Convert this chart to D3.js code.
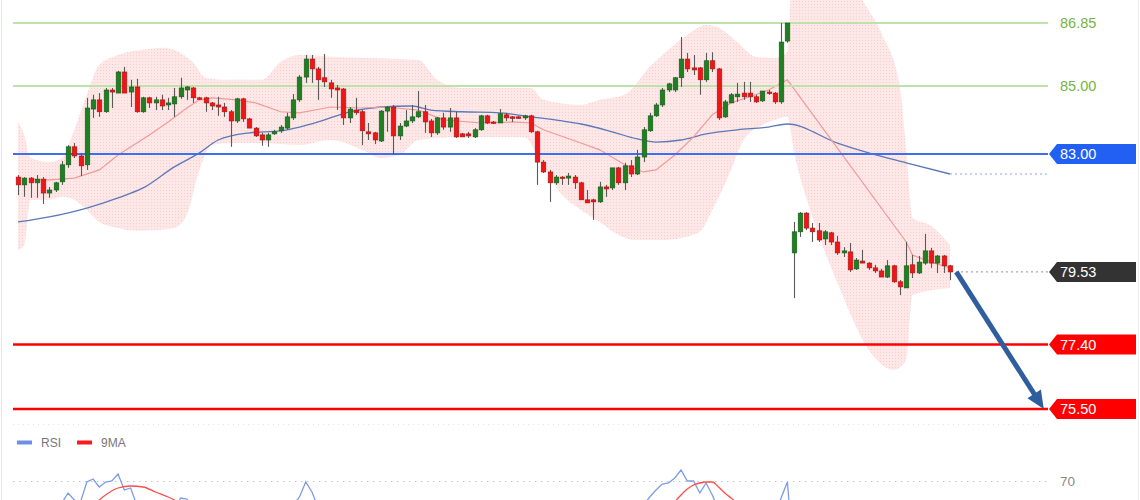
<!DOCTYPE html>
<html><head><meta charset="utf-8">
<script src="https://cdn.jsdelivr.net/npm/d3@7"></script>
<style>html,body{margin:0;padding:0;background:#fff;overflow:hidden}svg{display:block;font-family:"Liberation Sans",Arial,sans-serif}</style>
</head><body><svg id="c" width="1140" height="500"></svg>
<script>
// ---------- DATA ----------
const openP = [82.32,82.09,82.29,82.15,82.26,81.85,81.94,82.18,82.68,83.21,82.94,82.68,84.32,84.59,84.24,84.88,84.79,85.41,84.82,84.97,84.24,84.65,84.50,84.59,84.44,84.47,84.68,84.88,84.94,84.65,84.65,84.50,84.44,84.38,84.24,83.97,84.62,84.03,83.76,83.56,83.41,83.59,83.68,83.76,84.06,84.59,85.26,85.79,85.50,85.24,85.09,84.94,84.91,84.06,84.29,84.24,83.65,83.62,83.38,84.26,84.38,83.53,83.82,83.97,84.09,84.24,83.97,83.62,84.06,83.79,84.06,83.59,83.59,83.50,83.71,84.12,83.94,83.91,84.15,84.09,84.09,84.06,84.12,83.65,82.76,82.47,82.15,82.32,82.29,82.32,82.15,81.65,81.65,81.59,82.03,82.00,82.59,82.15,82.65,82.41,82.91,83.68,84.12,84.44,84.88,84.88,85.24,85.79,85.53,85.53,85.18,85.74,85.50,84.09,84.50,84.68,84.79,84.79,84.68,84.56,84.82,84.79,84.53,86.32,80.09,80.71,81.26,80.82,80.74,80.50,80.68,80.41,80.09,80.12,79.62,79.85,79.79,79.65,79.56,79.38,79.71,79.24,79.06,79.74,79.50,79.79,80.15,79.79,80.00,79.71];
const highP = [82.38,82.32,82.32,82.38,82.32,82.03,82.18,82.79,83.26,83.32,83.03,84.65,84.74,84.79,84.94,84.94,85.44,85.56,85.18,85.21,84.68,84.68,84.68,84.74,84.65,84.94,85.24,85.00,84.97,84.68,84.68,84.53,84.68,84.50,84.29,84.65,84.65,84.06,83.79,83.62,83.62,83.71,83.85,84.21,84.76,85.32,85.91,85.91,85.56,85.94,85.18,85.03,84.94,84.38,84.65,84.29,83.91,83.65,84.29,84.41,84.44,83.91,84.29,84.44,84.85,84.44,84.03,84.09,84.21,84.35,84.24,83.62,83.65,83.76,84.15,84.15,83.97,84.32,84.21,84.12,84.12,84.15,84.15,83.68,82.82,82.53,82.38,82.35,82.44,82.38,82.18,81.94,81.68,82.18,82.09,82.59,82.62,82.74,82.82,83.12,83.79,84.21,84.50,84.94,85.09,85.26,86.44,85.97,85.91,85.56,85.97,85.99,85.53,84.59,84.79,85.09,85.12,85.12,84.74,84.85,84.88,84.82,86.85,86.85,81.00,81.29,81.29,80.97,80.97,80.76,80.71,80.59,80.26,80.38,79.94,80.18,79.82,79.74,79.62,79.88,79.74,79.29,80.41,80.03,80.00,80.65,80.24,80.03,80.03,79.74];
const lowP = [81.79,81.74,81.71,81.71,81.53,81.71,81.88,82.09,82.59,82.88,82.35,82.53,84.06,84.09,84.21,84.35,84.79,84.79,84.38,84.21,84.21,84.35,84.29,84.29,84.29,84.09,84.62,84.59,84.50,84.59,84.24,84.29,84.12,84.09,83.21,83.91,83.94,83.76,83.50,83.24,83.21,83.56,83.62,83.71,84.00,84.53,85.09,85.09,84.59,84.97,84.65,84.29,83.85,83.91,84.15,83.26,83.41,83.29,83.35,83.65,82.97,83.41,83.79,83.91,84.06,83.62,83.50,83.56,83.71,83.65,83.47,83.50,83.47,83.47,83.68,83.88,83.88,83.91,83.97,83.94,84.03,84.00,83.62,82.09,82.44,81.59,82.09,82.09,82.09,81.97,81.65,81.56,81.06,81.56,81.74,81.94,82.09,81.94,82.32,82.38,82.76,83.65,84.09,84.38,84.82,84.82,84.97,85.41,85.32,84.74,85.12,85.41,84.00,84.06,84.50,84.53,84.59,84.53,84.50,84.53,84.74,84.47,84.47,86.27,78.76,80.56,80.76,80.41,80.41,80.32,80.32,80.03,79.97,79.53,79.59,79.79,79.59,79.50,79.38,79.35,79.21,78.85,79.06,79.35,79.47,79.74,79.65,79.50,79.50,79.29];
const closeP = [82.09,82.29,82.15,82.26,81.85,81.94,82.15,82.68,83.21,82.94,82.65,84.35,84.59,84.24,84.88,84.82,85.41,84.79,84.97,84.24,84.65,84.50,84.59,84.41,84.50,84.68,84.94,84.97,84.65,84.62,84.50,84.41,84.38,84.24,83.97,84.62,84.03,83.76,83.53,83.41,83.56,83.65,83.79,84.09,84.59,85.26,85.79,85.50,85.18,85.12,84.91,84.88,84.06,84.32,84.21,83.68,83.59,83.41,84.26,84.38,83.53,83.82,83.97,84.09,84.24,83.94,83.62,84.06,83.79,84.06,83.50,83.50,83.53,83.71,84.12,83.91,83.91,84.18,84.06,84.06,84.06,84.12,83.65,82.76,82.47,82.15,82.32,82.29,82.35,82.15,81.65,81.56,81.59,82.03,81.97,82.59,82.15,82.65,82.41,82.91,83.71,84.12,84.44,84.88,85.06,85.24,85.79,85.50,85.47,85.18,85.74,85.50,84.06,84.53,84.74,84.76,84.68,84.68,84.53,84.85,84.79,84.53,86.29,86.85,80.71,81.26,80.82,80.71,80.47,80.71,80.41,80.09,80.15,79.59,79.88,79.79,79.65,79.56,79.38,79.71,79.24,79.09,79.71,79.50,79.82,80.15,79.79,80.00,79.71,79.53];

// Bollinger band
const upperIdx = [0,1,2,5,7,9,11,13,16,20,23,26,28,30,33,39,42,45,51,64,67,71,82,84,90,93,97,101,104,107,110,112,115,118,121,123,124,128,132,135,138,141,142,143,146,149];
const upperVal = [83.94,83.56,82.88,82.76,82.88,83.71,84.74,85.62,85.91,86.06,86.12,85.97,85.68,85.24,85.18,85.18,85.71,85.91,85.85,85.76,85.18,84.94,84.94,84.59,84.44,84.59,84.74,85.56,86.06,86.50,86.79,86.71,86.29,85.85,85.82,86.00,89.10,89.40,88.60,87.53,86.56,84.94,83.12,81.12,80.88,80.32];
const lowerIdx = [0,1,2,5,7,9,11,13,16,19,22,25,27,29,31,34,39,45,50,55,58,61,64,71,81,83,87,90,93,96,99,103,106,109,111,114,116,119,121,123,124,127,131,136,140,142,143,149];
const lowerVal = [80.18,80.32,81.65,81.65,81.74,81.65,81.35,81.00,80.82,80.74,80.76,80.82,81.21,82.53,83.26,83.32,83.32,83.26,83.41,83.12,82.88,82.97,83.41,83.50,83.50,82.97,81.79,81.35,81.00,80.62,80.47,80.47,80.53,80.71,81.35,82.53,83.41,83.85,84.00,84.09,83.12,81.15,79.21,77.24,76.65,76.95,78.85,79.06];

// Moving averages
const ma20Idx = [2,5,9,13,16,19,21,24,27,29,31,35,38,42,45,50,55,59,64,68,74,79,82,84,90,93,97,100,102,105,108,111,114,117,120,123,142,143,146,149];
const ma20Val = [82.24,82.24,82.29,82.53,82.97,83.32,83.56,83.94,84.35,84.59,84.65,84.59,84.50,84.24,84.21,84.38,84.35,84.38,84.29,84.00,83.91,83.94,83.91,83.71,83.32,83.12,82.68,82.47,82.53,82.97,83.50,84.15,84.50,84.68,84.88,85.18,80.41,80.03,79.82,79.65];
const ma100Idx = [0,5,11,16,20,25,29,32,37,42,45,48,53,58,63,66,71,77,82,87,90,95,99,102,106,110,115,120,123,131,136,142,149];
const ma100Val = [81.00,81.15,81.41,81.71,82.00,82.62,83.03,83.41,83.62,83.68,83.79,83.94,84.24,84.38,84.41,84.29,84.24,84.21,84.09,83.97,83.88,83.65,83.44,83.35,83.41,83.59,83.71,83.79,83.88,83.32,83.03,82.74,82.41];

// Levels
const levelValues = [86.85, 85.00, 83.00, 77.40, 75.50];
const levelLabels = ["86.85", "85.00", "83.00", "77.40", "75.50"];
const levelStyle  = ["green", "green", "blue", "red", "red"];
const lastPrice = 79.53;
const lastLabel = "79.53";
// Forecast arrow (candle index, price)
const arrowFrom = [150, 79.53];
const arrowTo = [164, 75.50];

// RSI panel
const rsiIdx = [0,4,6,7,8,9,10,11,12,13,14,15,16,17,18,19,20,23,25,26,27,28,32,38,44,45,46,47,48,53,62,72,84,93,99,100,101,102,103,104,105,106,107,108,109,110,111,112,116,121,122,123,124,130,140,149];
const rsiVal = [42,48,46,61.2,65.2,62.4,61.6,69.6,70.8,67.6,69.6,70,72.8,66.4,67.2,60.4,54.4,55,58.4,63.2,62.8,58,50,42,60.4,63.6,69.6,65.6,59.2,48,50,52,35,38,55,60.4,63.6,66.4,68.8,69.2,71.2,74.4,70,70,65.2,69.2,64.4,58.4,57,56.4,63.2,69.6,40,35,30,38];
const ma9Idx = [0,8,11,13,14,16,18,20,22,24,25,27,35,60,90,100,103,104,105,106,107,108,109,110,111,112,113,114,115,118,130,149];
const ma9Val = [46,52,56,62.4,64.4,67.2,68,67.6,65.6,63.6,62.4,59.2,52,50,45,52,56.4,58.4,61.6,64.4,66.8,68.4,69.2,69.6,69.6,67.6,65.2,63.2,61.2,58,48,40];
const rsiTicks = [70];
const legendNames = ["RSI", "9MA"];

// ---------- LAYOUT ----------
const svg = d3.select("#c");
const plotL = 13, plotR = 1048;
const x = d3.scaleLinear().domain([0, 149]).range([18, 950]);
const y = d3.scaleLinear().domain([75.5, 86.85]).range([409, 23]);
const yr = d3.scaleLinear().domain([30, 70]).range([581, 481]);

// frame
svg.append("line").attr("x1",1.5).attr("x2",1.5).attr("y1",0).attr("y2",500).attr("stroke","#e3e8e3");
svg.append("line").attr("x1",1138.5).attr("x2",1138.5).attr("y1",0).attr("y2",500).attr("stroke","#ececec");

// band pattern
const defs = svg.append("defs");
const pat = defs.append("pattern").attr("id","dots").attr("width",3).attr("height",3).attr("patternUnits","userSpaceOnUse");
pat.append("rect").attr("width",3).attr("height",3).attr("fill","#fde7e7");
pat.append("rect").attr("x",1).attr("y",1).attr("width",1).attr("height",1).attr("fill","#f7cfcf");

const upPts = upperIdx.map((d,i)=>[x(d), y(upperVal[i])]);
const loPts = lowerIdx.map((d,i)=>[x(d), y(lowerVal[i])]);
const clipArea = d3.area().x(d=>d[0]).y0(-300).y1(d=>d[1]).curve(d3.curveMonotoneX);
defs.append("clipPath").attr("id","belowUpper").append("path").attr("d",
  d3.area().x(d=>d[0]).y0(800).y1(d=>d[1]).curve(d3.curveMonotoneX)(upPts));
svg.append("path").attr("d", clipArea(loPts)).attr("fill","url(#dots)").attr("clip-path","url(#belowUpper)");

// MAs
const lineGen = d3.line().x(d=>d[0]).y(d=>d[1]);
svg.append("path").attr("d", lineGen.curve(d3.curveMonotoneX)(ma100Idx.map((d,i)=>[x(d), y(ma100Val[i])])))
  .attr("fill","none").attr("stroke","#5b79b8").attr("stroke-width",1.3);
svg.append("path").attr("d", d3.line().curve(d3.curveLinear)(ma20Idx.map((d,i)=>[x(d), y(ma20Val[i])])))
  .attr("fill","none").attr("stroke","#f29a9a").attr("stroke-width",1.2);
// MA extension (dotted)
svg.append("line").attr("x1", x(149)).attr("x2", plotR).attr("y1", y(ma100Val[ma100Val.length-1])).attr("y2", y(ma100Val[ma100Val.length-1]))
  .attr("stroke","#8ea5d6").attr("stroke-width",1.2).attr("stroke-dasharray","2,3");

// level lines
const lvlColor = {green:"#bfe2aa", blue:"#3d6ff0", red:"#ff0000"};
const lvlWidth = {green:2, blue:2, red:2.5};
svg.selectAll(".lvl").data(levelValues).join("line").attr("class","lvl")
  .attr("x1", plotL).attr("x2", plotR).attr("y1", d=>y(d)).attr("y2", d=>y(d))
  .attr("stroke",(d,i)=>lvlColor[levelStyle[i]]).attr("stroke-width",(d,i)=>lvlWidth[levelStyle[i]]);

// last price dotted
svg.append("line").attr("x1", x(149)+6).attr("x2", plotR).attr("y1", y(lastPrice)).attr("y2", y(lastPrice))
  .attr("stroke","#a9a9a9").attr("stroke-width",1.2).attr("stroke-dasharray","2,3");

// candles
const cw = 4.6;
const cg = svg.append("g");
openP.forEach((o,i)=>{
  const c = closeP[i], up = c >= o;
  const cx = Math.round(x(i)) + 0.5;
  cg.append("line").attr("x1",cx).attr("x2",cx).attr("y1",y(highP[i])).attr("y2",y(lowP[i]))
    .attr("stroke","#5a5a5a").attr("stroke-width",1.1);
  const top = y(Math.max(o,c)), h = Math.max(1.5, Math.abs(y(o)-y(c)));
  cg.append("rect").attr("x",cx-cw/2).attr("y",top).attr("width",cw).attr("height",h)
    .attr("fill", up ? "#1f7f22" : "#ee1616").attr("stroke", up ? "#145a16" : "#b01010").attr("stroke-width",0.6);
});

// arrow
{
  const sx = x(arrowFrom[0]), sy = y(arrowFrom[1]), ex = x(arrowTo[0]), ey = y(arrowTo[1]);
  const ang = Math.atan2(ey-sy, ex-sx), hl = 18, hw = 8;
  const bx = ex - hl*Math.cos(ang), by = ey - hl*Math.sin(ang);
  svg.append("line").attr("x1",sx).attr("y1",sy).attr("x2",bx+2*Math.cos(ang)).attr("y2",by+2*Math.sin(ang))
    .attr("stroke","#2f5e9e").attr("stroke-width",5).attr("stroke-linecap","butt");
  const px = -Math.sin(ang), py = Math.cos(ang);
  svg.append("path").attr("d",`M${ex},${ey}L${bx+px*hw},${by+py*hw}L${bx-px*hw},${by-py*hw}Z`).attr("fill","#2f5e9e");
}

// labels
function box(v, txt, fill){
  const cy = y(v);
  svg.append("path").attr("d",`M1049,${cy}L1057,${cy-10}L1136,${cy-10}L1136,${cy+10}L1057,${cy+10}Z`).attr("fill",fill);
  svg.append("text").attr("x",1060).attr("y",cy).attr("dy","0.36em").attr("fill","#fff").attr("font-size",14.5).text(txt);
}
levelValues.forEach((v,i)=>{
  const s = levelStyle[i];
  if (s === "green") {
    svg.append("text").attr("x",1060).attr("y",y(v)).attr("dy","0.36em").attr("fill","#77b347").attr("font-size",14.5).text(levelLabels[i]);
  } else box(v, levelLabels[i], s === "blue" ? "#2160f3" : "#ff0000");
});
box(lastPrice, lastLabel, "#333333");

// separator
svg.append("line").attr("x1",plotL).attr("x2",plotR).attr("y1",424.5).attr("y2",424.5)
  .attr("stroke","#dfe5df").attr("stroke-width",1).attr("stroke-dasharray","1,4");

// RSI panel
svg.selectAll(".rt").data(rsiTicks).join("line").attr("x1",plotL).attr("x2",plotR)
  .attr("y1",d=>yr(d)+0.5).attr("y2",d=>yr(d)+0.5).attr("stroke","#c4c4c4").attr("stroke-dasharray","1.5,4.5");
svg.selectAll(".rtl").data(rsiTicks).join("text").attr("x",1060).attr("y",d=>yr(d)).attr("dy","0.36em")
  .attr("fill","#8a8a8a").attr("font-size",13.5).text(d=>d);
svg.append("path").attr("d", d3.line().curve(d3.curveLinear)(rsiIdx.map((d,i)=>[x(d), yr(rsiVal[i])])))
  .attr("fill","none").attr("stroke","#7d9ce6").attr("stroke-width",1.3);
svg.append("path").attr("d", d3.line().curve(d3.curveMonotoneX)(ma9Idx.map((d,i)=>[x(d), yr(ma9Val[i])])))
  .attr("fill","none").attr("stroke","#ff4d4d").attr("stroke-width",1.3);

// legend
const legColors = ["#6f8fe6", "#ff1a1a"];
const legX = [17, 77];
legendNames.forEach((n,i)=>{
  svg.append("rect").attr("x",legX[i]).attr("y",440.5).attr("width",15).attr("height",4).attr("fill",legColors[i]);
  svg.append("text").attr("x",legX[i]+24).attr("y",442.5).attr("dy","0.36em").attr("fill","#777").attr("font-size",12).text(n);
});
</script></body></html>
